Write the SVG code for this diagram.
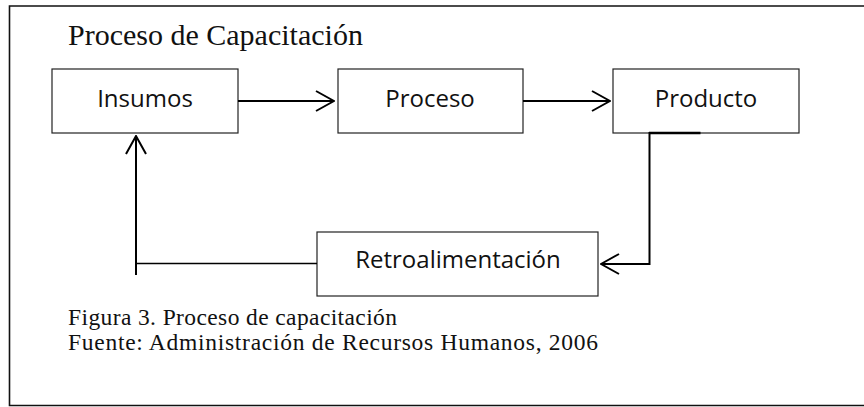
<svg xmlns="http://www.w3.org/2000/svg" width="864" height="407" viewBox="0 0 864 407">
<style>
.box{fill:#fff;stroke:#222;stroke-width:1.2}
.lbl{font-family:"Open Sans","Liberation Sans",sans-serif;font-size:24px;fill:#111;text-anchor:middle}
.serif{font-family:"Liberation Serif","Times New Roman",serif;fill:#111}
.con{fill:none;stroke:#000;stroke-width:2}
</style>
<defs>
<marker id="arr" viewBox="0 0 20 22" refX="19" refY="11" markerWidth="20" markerHeight="22" markerUnits="userSpaceOnUse" orient="auto">
<path d="M1 1 L19 11 L1 21" fill="none" stroke="#000" stroke-width="2"/>
</marker>
</defs>
<rect width="864" height="407" fill="#fff"/>
<path d="M870 6 H9.5 V405.5 H870" fill="none" stroke="#111" stroke-width="1.6"/>
<text class="serif" x="68" y="45" font-size="30">Proceso de Capacitación</text>
<g id="insumos"><rect class="box" x="52" y="69" width="186" height="64"/><text class="lbl" x="145" y="107">Insumos</text></g>
<g id="proceso"><rect class="box" x="338" y="69" width="185" height="64"/><text class="lbl" x="430" y="107">Proceso</text></g>
<g id="producto"><rect class="box" x="613" y="69" width="186" height="64"/><text class="lbl" x="706" y="107">Producto</text></g>
<g id="retro"><rect class="box" x="317" y="232" width="281" height="64"/><text class="lbl" x="458" y="268">Retroalimentación</text></g>
<g id="connectors">
<line class="con" x1="238" y1="101" x2="334" y2="101" marker-end="url(#arr)"/>
<line class="con" x1="523" y1="101" x2="610" y2="101" marker-end="url(#arr)"/>
<line x1="649" y1="133" x2="700.5" y2="133" stroke="#000" stroke-width="2.6"/>
<path class="con" d="M649.5 132 V264 H601" marker-end="url(#arr)"/>
<line x1="317" y1="263.5" x2="136" y2="263.5" stroke="#000" stroke-width="1.5"/>
<line class="con" x1="136" y1="275" x2="136" y2="136" marker-end="url(#arr)"/>
</g>
<text class="serif" x="68" y="325" font-size="23.5" textLength="329" lengthAdjust="spacing">Figura 3. Proceso de capacitación</text>
<text class="serif" x="68" y="350" font-size="23.5" textLength="530" lengthAdjust="spacing">Fuente: Administración de Recursos Humanos, 2006</text>
</svg>
